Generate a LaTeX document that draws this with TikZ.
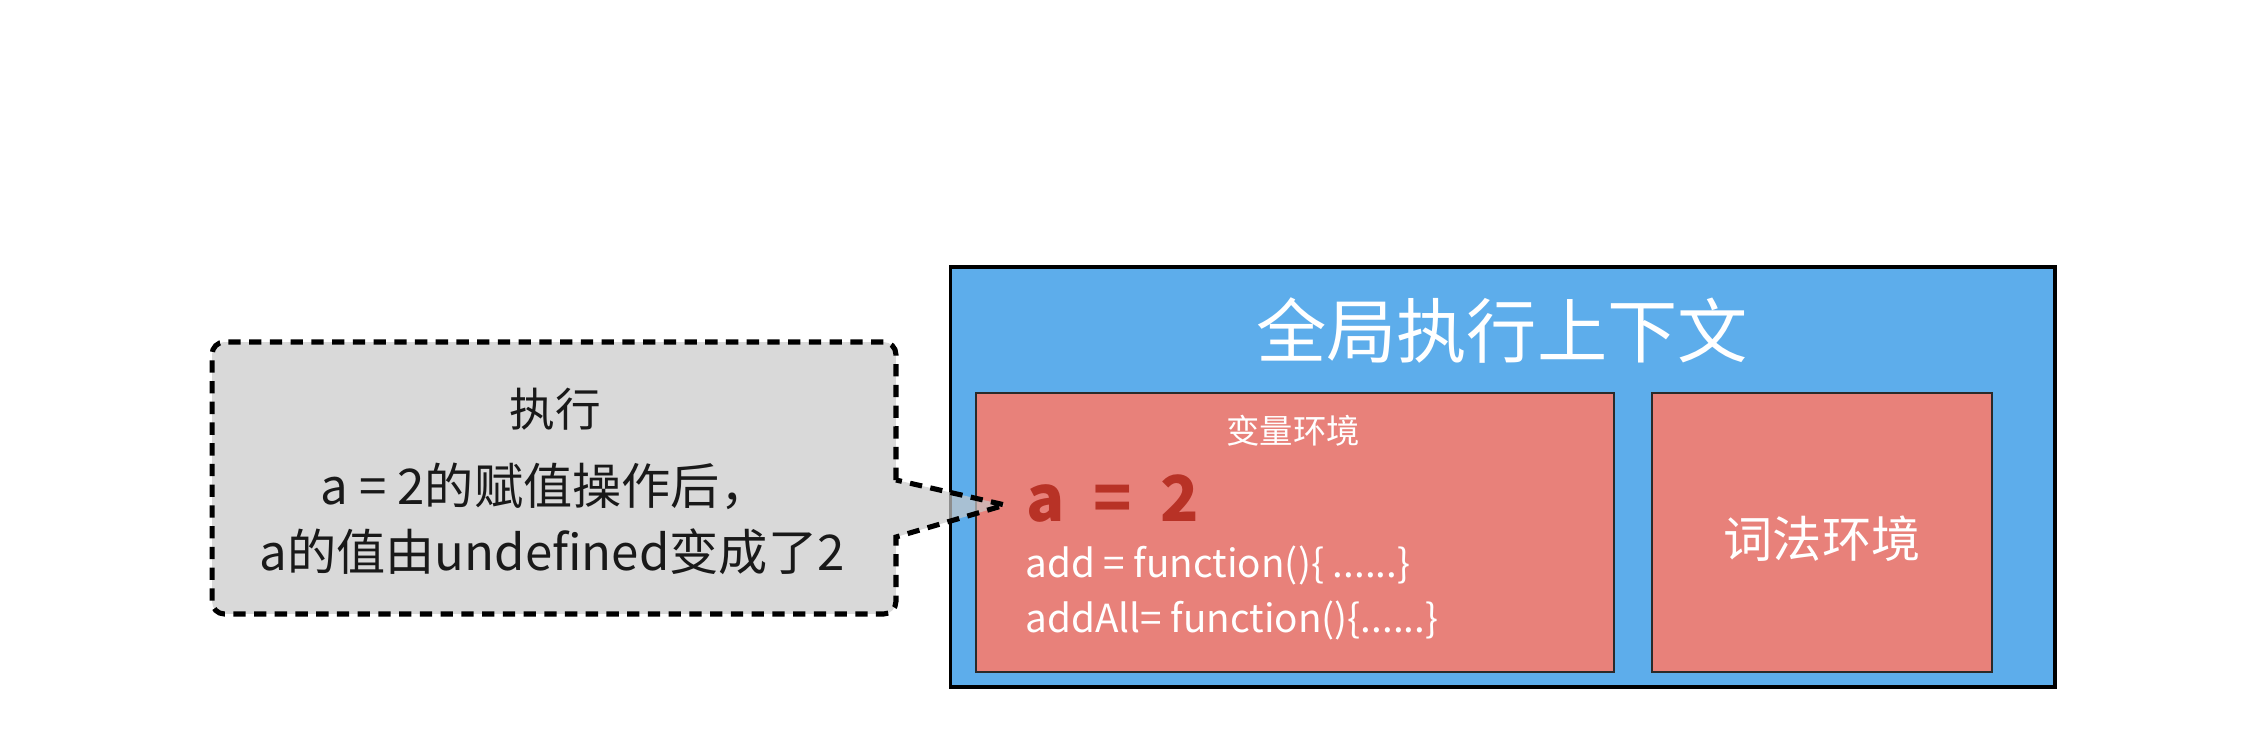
\documentclass[tikz,border=0pt]{standalone}
\usepackage{fontspec}
\setmainfont{Noto Sans CJK SC}
\definecolor{bluebg}{HTML}{5DADEB}
\definecolor{redbg}{HTML}{E8817A}
\definecolor{reddark}{HTML}{B83226}
\definecolor{grayfill}{HTML}{D9D9D9}
\definecolor{graytip}{HTML}{C9C9C9}
\definecolor{edgedark}{HTML}{2A2A2A}
\tikzset{
  outerbox/.style={draw=black, line width=1.8pt, fill=bluebg, inner sep=0pt, outer sep=0pt},
  envbox/.style={draw=edgedark, line width=1.2pt, fill=redbg, inner sep=0pt, outer sep=0pt},
  calloutbox/.style={fill=grayfill, rounded corners=7pt, inner sep=0pt, outer sep=0pt},
  calloutline/.style={draw=black, line width=2.9pt, dash pattern=on 7pt off 4.8pt},
  whitetxt/.style={text=white, inner sep=0pt},
  calltxt/.style={text=black!90, inner sep=0pt},
}
\begin{document}
\begin{tikzpicture}[x=0.02cm, y=-0.02cm]
\useasboundingbox (0,0) rectangle (2260,738);
\fill[white] (0,0) rectangle (2260,738);

% global execution context
\node[outerbox, minimum width=22.1cm, minimum height=8.4cm] (ctx) at (1502.5,477) {};
\node[whitetxt, font=\fontsize{40}{42}\selectfont] (title) at (1502,331) {全局执行上下文};

% variable environment
\node[envbox, minimum width=12.76cm, minimum height=5.58cm] (varenv) at (1295,532.5) {};
\node[whitetxt, font=\fontsize{19}{21}\selectfont] (varlbl) at (1293,431) {变量环境};
\node[inner sep=0pt, anchor=west, text=reddark, font=\fontsize{36}{38}\selectfont\bfseries] (aval) at (1026,499) {a\hspace{0.45em}=\hspace{0.45em}2};
\node[whitetxt, anchor=west, font=\fontsize{22}{24}\selectfont] (addf) at (1025,565) {add = function()\{ ......\}};
\node[whitetxt, anchor=west, font=\fontsize{22}{24}\selectfont] (addall) at (1025,620) {addAll= function()\{......\}};

% lexical environment
\node[envbox, minimum width=6.8cm, minimum height=5.58cm] (lexenv) at (1822,532.5) {};
\node[whitetxt, font=\fontsize{28}{30}\selectfont] (lexlbl) at (1822,539) {词法环境};

% callout
\node[calloutbox, minimum width=13.68cm, minimum height=5.44cm] (call) at (554,478) {};
\coordinate (pa) at (896,480);
\coordinate (pt) at (1005,505);
\coordinate (pb) at (896,537);
\fill[graytip, opacity=0.7] (pa) -- (pt) -- (pb) -- cycle;
\draw[calloutline] (pa) [rounded corners=7pt] -- (call.north east) -- (call.north west) -- (call.south west) -- (call.south east) [sharp corners] -- (pb) -- (pt) -- (pa);
\node[calltxt, font=\fontsize{26}{28}\selectfont] (exec) at (555,409) {执行};
\node[calltxt, font=\fontsize{28}{30}\selectfont] (line2) at (545,486) {a = 2的赋值操作后，};
\node[calltxt, font=\fontsize{28}{30}\selectfont] (line3) at (552,552) {a的值由undefined变成了2};
\end{tikzpicture}
\end{document}
